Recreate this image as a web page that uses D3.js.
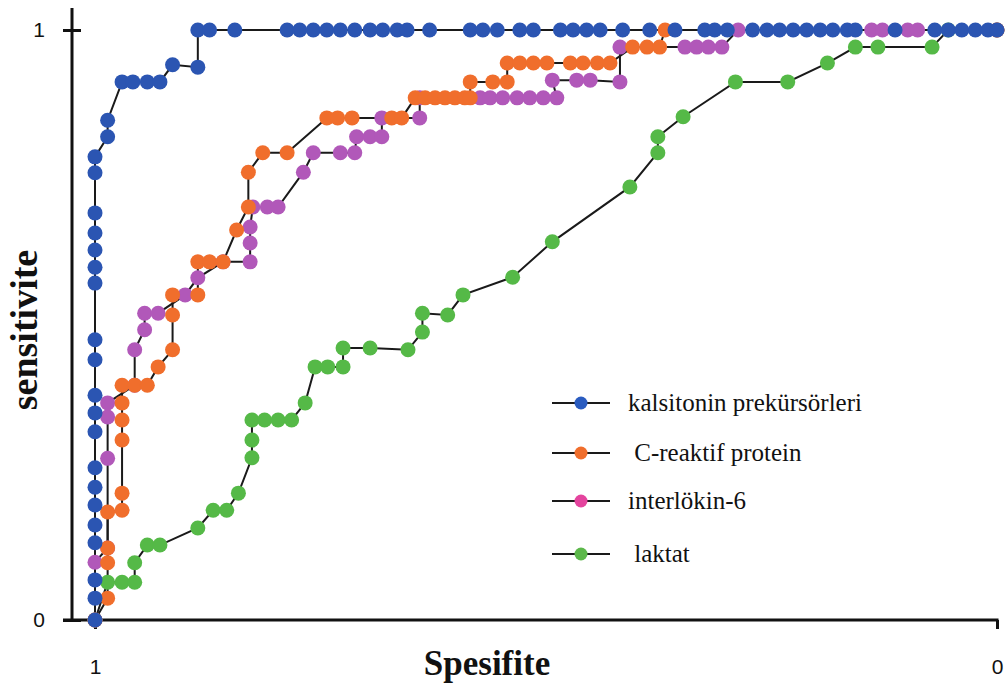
<!DOCTYPE html>
<html>
<head>
<meta charset="utf-8">
<script src="https://cdn.jsdelivr.net/npm/d3@7"></script>
<style>
    body {margin: 0; background: #fff;}
    svg {display: block;}
    .tick text {font-family: "Liberation Sans", Arial, sans-serif; font-size: 21px; fill: #111;}
    .axis-title {font-family: "Liberation Serif", "Times New Roman", serif; font-weight: bold; fill: #111;}
</style>
</head>
<body>
<div id="chart"></div>
<script>
// [spesifite, sensitivite] pairs
const kalsitonin = [
    [1, 0], [1, .037], [1, .068], [1, .131], [1, .161], [1, .195], [1, .225], [1, .258], [1, .319], [1, .351],
    [1, .381], [1, .441], [1, .475], [1, .571], [1, .598], [1, .627], [1, .656], [1, .690], [1, .758], [1, .785],
    [.986, .819], [.986, .847], [.970, .912], [.958, .912], [.942, .912], [.928, .912], [.914, .941], [.886, .937],
    [.886, 1], [.873, 1], [.845, 1], [.787, 1], [.773, 1], [.758, 1], [.743, 1], [.728, 1], [.712, 1], [.695, 1],
    [.681, 1], [.665, 1], [.654, 1], [.629, 1], [.584, 1], [.570, 1], [.554, 1], [.529, 1], [.514, 1], [.484, 1],
    [.470, 1], [.455, 1], [.440, 1], [.415, 1], [.385, 1], [.357, 1], [.324, 1], [.313, 1], [.299, 1], [.271, 1],
    [.255, 1], [.241, 1], [.226, 1], [.211, 1], [.196, 1], [.182, 1], [.166, 1], [.157, 1], [.113, 1], [.069, 1],
    [.054, 1], [.039, 1], [.024, 1], [.010, 1], [0, 1]
];
const crp = [
    [1, 0], [.986, .037], [.986, .097], [.986, .122], [.986, .183], [.970, .186], [.970, .215], [.970, .305],
    [.970, .339], [.970, .368], [.970, .398], [.956, .398], [.942, .398], [.930, .429], [.914, .458], [.914, .517],
    [.914, .551], [.886, .551], [.886, .607], [.873, .607], [.858, .607], [.843, .661], [.830, .700], [.830, .759],
    [.814, .792], [.787, .792], [.743, .851], [.731, .851], [.715, .851], [.671, .851], [.660, .851], [.645, .885],
    [.634, .885], [.623, .885], [.612, .885], [.601, .885], [.590, .885], [.584, .885], [.584, .912], [.559, .912],
    [.543, .912], [.543, .944], [.529, .944], [.514, .944], [.499, .944], [.473, .944], [.459, .944], [.443, .944],
    [.429, .944], [.404, .971], [.388, .971], [.374, .971], [.368, 1], [0, 1]
];
const il6 = [
    [1, 0], [1, .098], [.986, .122], [.986, .274], [.986, .344], [.986, .368], [.956, .398], [.956, .458],
    [.945, .492], [.945, .520], [.930, .520], [.900, .551], [.886, .580], [.858, .607], [.828, .607], [.828, .639],
    [.828, .666], [.825, .700], [.809, .700], [.797, .700], [.769, .759], [.758, .792], [.728, .792], [.712, .792],
    [.710, .819], [.695, .819], [.682, .819], [.682, .851], [.640, .851], [.640, .885], [.573, .885], [.562, .885],
    [.548, .885], [.532, .885], [.518, .885], [.503, .885], [.488, .885], [.493, .915], [.466, .915], [.451, .915],
    [.418, .912], [.418, .971], [.346, .971], [.333, .971], [.320, .971], [.305, .971], [.287, 1], [.139, 1],
    [.127, 1], [.099, 1], [.088, 1], [0, 1]
];
const laktat = [
    [1, 0], [.986, .064], [.970, .064], [.956, .064], [.956, .097], [.942, .127], [.928, .127], [.886, .156],
    [.869, .186], [.854, .186], [.841, .215], [.826, .275], [.826, .305], [.826, .339], [.812, .339], [.797, .339],
    [.782, .339], [.767, .368], [.756, .429], [.742, .429], [.725, .429], [.725, .461], [.695, .461], [.653, .458],
    [.637, .488], [.637, .520], [.609, .517], [.592, .551], [.537, .581], [.493, .641], [.407, .734], [.376, .792],
    [.376, .819], [.348, .853], [.290, .912], [.232, .912], [.188, .944], [.157, .971], [.132, .971], [.072, .971],
    [.054, 1], [0, 1]
];

const legendNames = ["kalsitonin prekürsörleri", " C-reaktif protein", "interlökin-6", " laktat"];
const xTicks = [1, 0];
const yTicks = [0, 1];
const xTitle = "Spesifite";
const yTitle = "sensitivite";

const width = 1005,
    height = 688,
    margin = {top: 30, right: 8, bottom: 68, left: 95};

// series in legend order; dot colour, legend colour
const series = [
    {data: kalsitonin, color: "#2b55b2", key: "#2a5cc0"},
    {data: crp, color: "#f06e2c", key: "#f06e2c"},
    {data: il6, color: "#b158b9", key: "#e4449e"},
    {data: laktat, color: "#55b947", key: "#5cb84a"}
];

const x = d3.scaleLinear().domain([1, 0]).range([margin.left, width - margin.right]);
const y = d3.scaleLinear().domain([0, 1]).range([height - margin.bottom, margin.top]);

const svg = d3.select("#chart")
    .append("svg")
    .attr("width", width)
    .attr("height", height)
    .attr("viewBox", [0, 0, width, height]);

// y axis
const axisX = 72;
svg.append("g")
    .attr("transform", `translate(${axisX},0)`)
    .call(d3.axisLeft(y).tickValues(yTicks).tickSize(9).tickPadding(18).tickFormat(d3.format("d")))
    .call(g => g.select(".domain").remove())
    .call(g => g.selectAll(".tick line").attr("x1", 9).attr("stroke", "#111").attr("stroke-width", 3))
    .call(g => g.selectAll(".tick text").attr("dy", "0.3em"));
svg.append("line")
    .attr("x1", axisX).attr("x2", axisX)
    .attr("y1", y(1) - 22).attr("y2", y(0) + 1.5)
    .attr("stroke", "#111").attr("stroke-width", 3);

// x axis
svg.append("g")
    .attr("transform", `translate(0,${y(0)})`)
    .call(d3.axisBottom(x).tickValues(xTicks).tickSize(9).tickPadding(30).tickFormat(d3.format("d")))
    .call(g => g.select(".domain").remove())
    .call(g => g.selectAll(".tick line").attr("stroke", "#111").attr("stroke-width", 3));
svg.append("line")
    .attr("x1", axisX - 9).attr("x2", x(0) + 1.5)
    .attr("y1", y(0)).attr("y2", y(0))
    .attr("stroke", "#111").attr("stroke-width", 3);

// connecting lines under all dots
const line = d3.line()
    .x(d => x(d[0]))
    .y(d => y(d[1]));

series.forEach(s => {
    svg.append("path")
        .datum(s.data)
        .attr("d", line)
        .attr("fill", "none")
        .attr("stroke", "#1a1a1a")
        .attr("stroke-width", 2);
});

// dots: laktat first, kalsitonin on top
[3, 2, 1, 0].forEach(i => {
    svg.append("g")
        .selectAll("circle")
        .data(series[i].data)
        .join("circle")
        .attr("cx", d => x(d[0]))
        .attr("cy", d => y(d[1]))
        .attr("r", 7.5)
        .attr("fill", series[i].color);
});

// axis titles
svg.append("text")
    .attr("class", "axis-title")
    .attr("x", 487)
    .attr("y", 675)
    .attr("text-anchor", "middle")
    .style("font-size", "35px")
    .text(xTitle);

svg.append("text")
    .attr("class", "axis-title")
    .attr("transform", "translate(37,330) rotate(-90)")
    .attr("text-anchor", "middle")
    .style("font-size", "38px")
    .text(yTitle);

// legend
const legend = svg.append("g");
const legendY = [403, 453, 501, 554];
series.forEach((s, i) => {
    const row = legend.append("g").attr("transform", `translate(0,${legendY[i]})`);
    row.append("line")
        .attr("x1", 552).attr("x2", 610)
        .attr("stroke", "#1a1a1a").attr("stroke-width", 2);
    row.append("circle")
        .attr("cx", 581).attr("r", 6.5)
        .attr("fill", s.key);
    row.append("text")
        .attr("x", 628)
        .attr("y", 8)
        .attr("font-family", "'Liberation Serif', 'Times New Roman', serif")
        .attr("font-size", 25)
        .attr("fill", "#111")
        .attr("xml:space", "preserve")
        .style("font-family", "'Liberation Serif', 'Times New Roman', serif")
        .style("white-space", "pre")
        .text(legendNames[i]);
});
</script>
</body>
</html>
